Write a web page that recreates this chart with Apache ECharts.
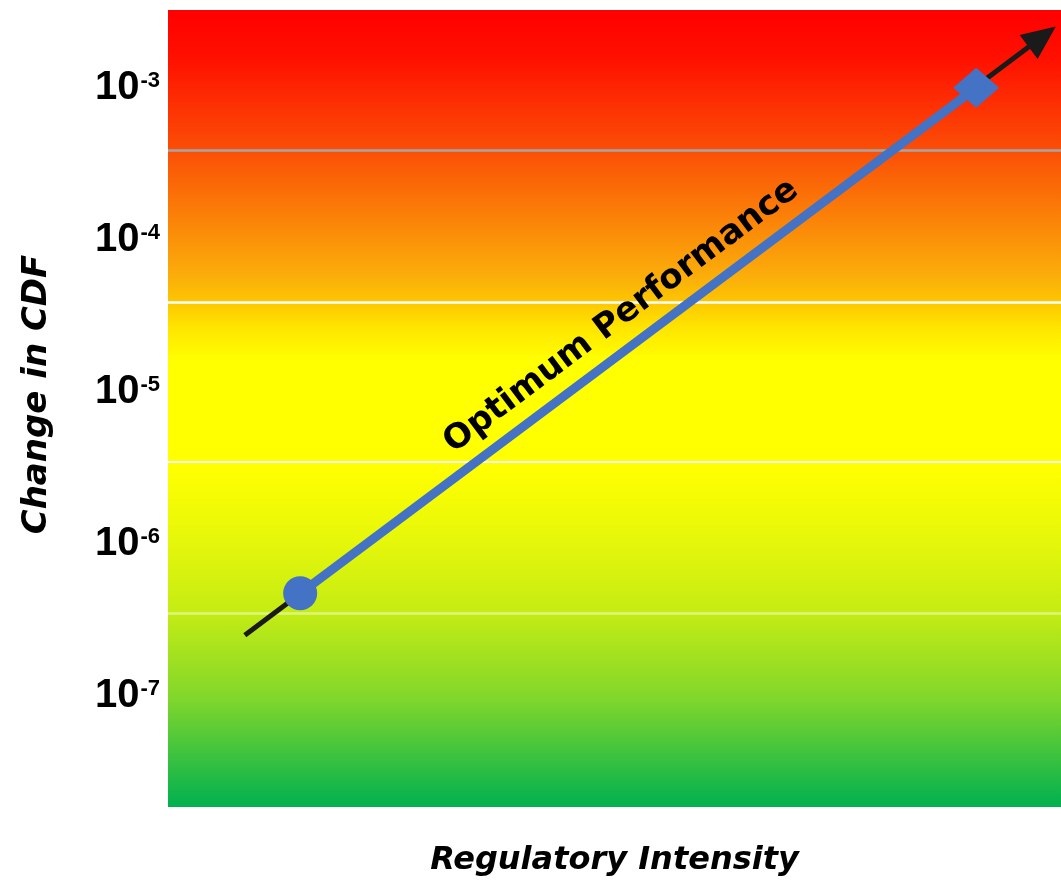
<!DOCTYPE html>
<html>
<head>
<meta charset="utf-8">
<script src="https://cdn.jsdelivr.net/npm/echarts@6/dist/echarts.min.js"></script>
<style>html,body{margin:0;padding:0;background:#fff}#c{width:1061px;height:882px}</style>
</head>
<body>
<div id="c"></div>
<script>
// ---- data ----
const xAxisTitle = 'Regulatory Intensity';
const yAxisTitle = 'Change in CDF';
const lineLabel = 'Optimum Performance';
const yTickExponents = [-7, -6, -5, -4, -3];
const yRange = [1.87e-8, 3.25e-3];
const xRange = [0, 10];
// optimum performance segment (circle start, diamond end)
const perfX = [1.48, 9.05];
const perfY = [4.75e-7, 1.0e-3];
// black trend arrow underneath
const trendX = [0.86, 9.79];
const trendY = [2.52e-7, 2.17e-3];
// horizontal band boundary lines
const bandY = [3.9e-4, 3.9e-5, 3.5e-6, 3.5e-7];
const bandColors = ['#a6a6a6', '#ffffff', '#ffffff', 'rgba(255,255,255,0.45)'];
const bandWidths = [2.5, 2.5, 2, 2.5];

const chart = echarts.init(document.getElementById('c'), null, {renderer: 'canvas'});

const bg = {
  type: 'linear', x: 0, y: 0, x2: 0, y2: 1,
  colorStops: [
    {offset: 0.0, color: '#ff0000'},
    {offset: 0.06, color: '#ff1000'},
    {offset: 0.175, color: '#fb4e06'},
    {offset: 0.338, color: '#fbb00a'},
    {offset: 0.366, color: '#fdc600'},
    {offset: 0.40, color: '#ffe600'},
    {offset: 0.44, color: '#ffff00'},
    {offset: 0.575, color: '#ffff00'},
    {offset: 0.665, color: '#e6f70a'},
    {offset: 0.757, color: '#c4ec14'},
    {offset: 0.865, color: '#80d62c'},
    {offset: 1.0, color: '#00b050'}
  ]
};

const option = {
  animation: false,
  grid: {left: 168, right: 0, top: 10, bottom: 74, show: true, backgroundColor: bg, borderWidth: 0, containLabel: false},
  xAxis: {
    type: 'value', min: xRange[0], max: xRange[1],
    name: xAxisTitle, nameLocation: 'middle', nameGap: 38,
    nameTextStyle: {fontFamily: 'DejaVu Sans', fontWeight: 'bold', fontStyle: 'italic', fontSize: 32, color: '#000'},
    axisLine: {show: false}, axisTick: {show: false}, axisLabel: {show: false}, splitLine: {show: false}
  },
  yAxis: {
    type: 'log', logBase: 10, min: yRange[0], max: yRange[1],
    name: yAxisTitle, nameLocation: 'middle', nameGap: 114, nameRotate: 90,
    nameTextStyle: {fontFamily: 'DejaVu Sans', fontWeight: 'bold', fontStyle: 'italic', fontSize: 34, color: '#000', padding: [0, 0, 0, 28]},
    axisLine: {show: false}, axisTick: {show: false}, splitLine: {show: false},
    axisLabel: {
      margin: 8,
      showMinLabel: false, showMaxLabel: false,
      formatter: function (v) {
        const e = Math.log10(v);
        const r = Math.round(e);
        if (Math.abs(e - r) > 1e-6 || yTickExponents.indexOf(r) < 0) return '';
        return '{b|10}{s|' + r + '}';
      },
      rich: {
        b: {fontFamily: 'Liberation Sans Narrow, Liberation Sans', fontWeight: 'bold', fontSize: 40, color: '#000'},
        s: {fontFamily: 'Liberation Sans', fontWeight: 'bold', fontSize: 22, color: '#000', verticalAlign: 'top', padding: [2, 0, 0, 1]}
      }
    }
  },
  series: [
    {
      type: 'line', data: [], silent: true, z: 1,
      markLine: {
        silent: true, symbol: 'none', label: {show: false}, z: 1,
        lineStyle: {type: 'solid', width: 2.5},
        data: bandY.map((v, i) => [
          {coord: [xRange[0], v], lineStyle: {color: bandColors[i], width: bandWidths[i], type: 'solid'}},
          {coord: [xRange[1], v]}
        ])
      }
    },
    {
      type: 'line', data: [], silent: true, z: 2,
      markLine: {
        silent: true, z: 2, symbol: ['none', 'triangle'], symbolSize: [30, 34],
        lineStyle: {color: '#1a1a1a', width: 5, type: 'solid'},
        itemStyle: {color: '#1a1a1a'},
        label: {
          show: true, position: 'middle', formatter: lineLabel, distance: 12,
          padding: [0, 12, 0, 0],
          fontFamily: 'DejaVu Sans', fontWeight: 'bold', fontSize: 34, color: '#000'
        },
        data: [[{coord: [trendX[0], trendY[0]]}, {coord: [trendX[1], trendY[1]]}]]
      }
    },
    {
      type: 'line', z: 6,
      lineStyle: {color: '#4472c4', width: 9},
      itemStyle: {color: '#4472c4'},
      data: [
        {value: [perfX[0], perfY[0]], symbol: 'circle', symbolSize: 34},
        {value: [perfX[1], perfY[1]], symbol: 'diamond', symbolSize: [46, 40]}
      ]
    }
  ]
};
chart.setOption(option);
</script>
</body>
</html>
